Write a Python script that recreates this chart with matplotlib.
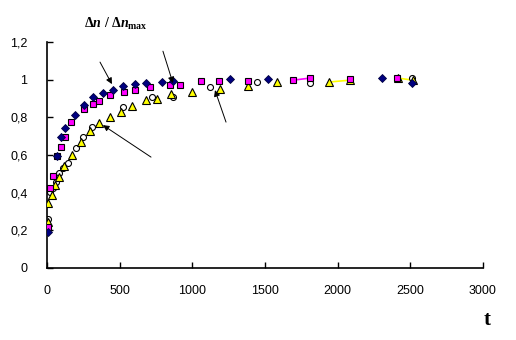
import matplotlib.pyplot as plt

plt.rcParams['font.family'] = 'Liberation Sans'
plt.rcParams['mathtext.fontset'] = 'custom'
plt.rcParams['mathtext.rm'] = 'Liberation Serif:bold'
plt.rcParams['mathtext.it'] = 'Liberation Serif:italic:bold'
plt.rcParams['mathtext.bf'] = 'Liberation Serif:bold'

# series 1: dark blue diamonds
t_dia = [7, 69, 96, 124, 193, 255, 316, 385, 454, 523, 606, 681, 791, 867, 1259, 1521, 2305, 2511]
v_dia = [0.19, 0.595, 0.696, 0.743, 0.813, 0.866, 0.908, 0.929, 0.945, 0.967, 0.977, 0.982,
         0.987, 0.993, 1.004, 1.004, 1.009, 0.982]

# series 2: magenta squares
t_sq = [7, 21, 41, 69, 96, 124, 165, 255, 316, 358, 434, 530, 606, 709, 846, 915, 1060, 1184,
        1383, 1693, 1810, 2085, 2408]
v_sq = [0.22, 0.425, 0.489, 0.595, 0.643, 0.696, 0.775, 0.844, 0.871, 0.887, 0.919, 0.935,
        0.945, 0.961, 0.972, 0.972, 0.993, 0.993, 0.993, 0.998, 1.009, 1.004, 1.009]

# series 3: yellow triangles
t_tri = [7, 7, 34, 55, 83, 117, 172, 234, 296, 358, 434, 509, 585, 681, 757, 853, 998, 1190,
         1383, 1583, 1940, 2085, 2415, 2518]
v_tri = [0.244, 0.345, 0.388, 0.44, 0.483, 0.542, 0.600, 0.669, 0.728, 0.770, 0.802, 0.829,
         0.860, 0.892, 0.897, 0.924, 0.935, 0.951, 0.967, 0.988, 0.988, 0.998, 1.009, 0.998]

# series 4: open circles
t_circ = [7, 21, 41, 62, 83, 110, 145, 200, 248, 310, 523, 722, 867, 1122, 1445, 1810, 2511]
v_circ = [0.26, 0.404, 0.425, 0.457, 0.504, 0.531, 0.558, 0.637, 0.696, 0.749, 0.855, 0.908,
          0.908, 0.961, 0.988, 0.982, 1.009]

# short connecting segments at the tail of the curves
seg_sq = [([1693, 1810], [0.998, 1.009])]
seg_tri = [([1940, 2085], [0.988, 0.998]), ([2415, 2518], [1.009, 0.998])]

# arrows: (tail, head)
arrows = [((365, 1.094), (447, 0.977)),
          ((798, 1.152), (867, 0.982)),
          ((1232, 0.775), (1156, 0.945)),
          ((716, 0.589), (385, 0.759))]

fig = plt.figure(figsize=(5.16, 3.4), dpi=100)
ax = fig.add_axes([0.091, 0.212, 0.845, 0.664])

for xs, ys in seg_sq:
    ax.plot(xs, ys, color='#ff00ff', lw=1.2, zorder=1)
for xs, ys in seg_tri:
    ax.plot(xs, ys, color='#ffff00', lw=1.2, zorder=1)

ax.plot(t_circ, v_circ, 'o', ms=4.3, mfc='white', mec='black', mew=0.8, ls='none', zorder=2)
ax.plot(t_tri, v_tri, '^', ms=5.2, mfc='#ffff00', mec='black', mew=0.8, ls='none', zorder=3)
ax.plot(t_sq, v_sq, 's', ms=4.6, mfc='#ff00ff', mec='black', mew=0.8, ls='none', zorder=4)
ax.plot(t_dia, v_dia, 'D', ms=3.8, mfc='#000080', mec='#000040', mew=0.6, ls='none', zorder=5)

for (tx, ty), (hx, hy) in arrows:
    ax.annotate('', xy=(hx, hy), xytext=(tx, ty),
                arrowprops=dict(arrowstyle='-|>', color='black', lw=0.7,
                                mutation_scale=9, shrinkA=0, shrinkB=0), zorder=6)

ax.set_xlim(0, 3000)
ax.set_ylim(0, 1.2)
ax.set_xticks([0, 500, 1000, 1500, 2000, 2500, 3000])
ax.set_yticks([0, 0.2, 0.4, 0.6, 0.8, 1.0, 1.2])
ax.set_yticklabels(['0', '0,2', '0,4', '0,6', '0,8', '1', '1,2'])
ax.tick_params(direction='in', length=4, width=1, labelsize=9, pad=12)
ax.tick_params(axis='y', pad=14)
for s in ['top', 'right']:
    ax.spines[s].set_visible(False)
for s in ['left', 'bottom']:
    ax.spines[s].set_linewidth(1.2)

fig.text(0.225, 0.93, r'$\mathbf{\Delta}n\ \mathbf{/}\ \mathbf{\Delta}n_{\mathbf{max}}$',
         fontsize=10, ha='center', va='center')
fig.text(0.944, 0.06, 't', fontfamily='Liberation Serif', fontweight='bold',
         fontsize=15, ha='center', va='center')

fig.savefig('out.png', dpi=100)
